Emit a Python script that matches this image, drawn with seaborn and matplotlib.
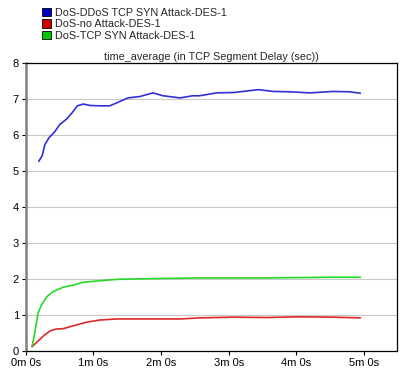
import pandas as pd
import seaborn as sns
import matplotlib.pyplot as plt
from matplotlib.patches import Patch

# time in minutes, delay in seconds
ddos_t = [0.19, 0.24, 0.28, 0.34, 0.43, 0.50, 0.60, 0.68, 0.76, 0.85, 0.95, 1.09, 1.24,
          1.34, 1.51, 1.69, 1.88, 2.03, 2.28, 2.47, 2.57, 2.82, 3.07, 3.44, 3.66, 3.91,
          4.20, 4.55, 4.79, 4.95]
ddos_v = [5.27, 5.42, 5.73, 5.92, 6.10, 6.29, 6.44, 6.61, 6.81, 6.86, 6.82, 6.81, 6.81,
          6.89, 7.03, 7.07, 7.17, 7.09, 7.03, 7.09, 7.09, 7.17, 7.18, 7.26, 7.21, 7.20,
          7.17, 7.21, 7.20, 7.16]

noatk_t = [0.09, 0.16, 0.26, 0.36, 0.45, 0.55, 0.70, 0.90, 1.09, 1.34, 1.69, 2.08, 2.28,
           2.57, 3.07, 3.56, 4.05, 4.55, 4.95]
noatk_v = [0.12, 0.24, 0.42, 0.56, 0.61, 0.62, 0.70, 0.80, 0.86, 0.89, 0.89, 0.89, 0.89,
           0.92, 0.94, 0.93, 0.95, 0.94, 0.92]

syn_t = [0.09, 0.13, 0.18, 0.23, 0.31, 0.40, 0.55, 0.70, 0.85, 1.09, 1.34, 1.83, 2.57,
         3.56, 4.55, 4.95]
syn_v = [0.12, 0.49, 1.05, 1.28, 1.51, 1.65, 1.77, 1.83, 1.91, 1.95, 1.99, 2.01, 2.03,
         2.03, 2.05, 2.05]

names = ['DoS-DDoS TCP SYN Attack-DES-1', 'DoS-no Attack-DES-1', 'DoS-TCP SYN Attack-DES-1']
line_colors = ['#3030d8', '#e02828', '#28d828']
box_colors = ['#0000c8', '#d00000', '#00c800']

df = pd.concat([
    pd.DataFrame({'t': ddos_t, 'v': ddos_v, 's': names[0]}),
    pd.DataFrame({'t': noatk_t, 'v': noatk_v, 's': names[1]}),
    pd.DataFrame({'t': syn_t, 'v': syn_v, 's': names[2]}),
])

sns.set_style('white')
plt.rcParams['font.family'] = ['Liberation Sans', 'DejaVu Sans']

fig = plt.figure(figsize=(4.05, 3.75), dpi=100)
ax = fig.add_axes([0.064, 0.064, 0.916, 0.768])

sns.lineplot(data=df, x='t', y='v', hue='s', palette=dict(zip(names, line_colors)),
             sort=False, linewidth=1.2, legend=False, ax=ax)

ax.set_xlim(0, 5.49)
ax.set_ylim(0, 8)
ax.set_yticks(range(0, 9))
ax.set_xticks(range(0, 6))
ax.set_xticklabels([f'{m}m 0s' for m in range(6)])
ax.tick_params(labelsize=8, length=3, width=0.8, pad=2, colors='black')
ax.tick_params(axis='y', left=True)
ax.tick_params(axis='x', bottom=True)
ax.yaxis.grid(True, color='#c8c8c8', linewidth=0.8)
ax.set_xlabel('')
ax.set_ylabel('')
for s in ['top', 'right', 'bottom']:
    ax.spines[s].set_color('black')
    ax.spines[s].set_linewidth(0.9)
ax.spines['left'].set_color('#808080')
ax.spines['left'].set_linewidth(1.8)

ax.set_title('time_average (in TCP Segment Delay (sec))', fontsize=7.8, pad=2)

handles = [Patch(facecolor=c, edgecolor='black', linewidth=0.6) for c in box_colors]
fig.legend(handles, names, loc='upper left', bbox_to_anchor=(0.085, 1.0), frameon=False,
           fontsize=7.8, handlelength=0.8, handleheight=0.8, handletextpad=0.4,
           labelspacing=0.15, borderaxespad=0.3)

plt.savefig('out.png', dpi=100)
